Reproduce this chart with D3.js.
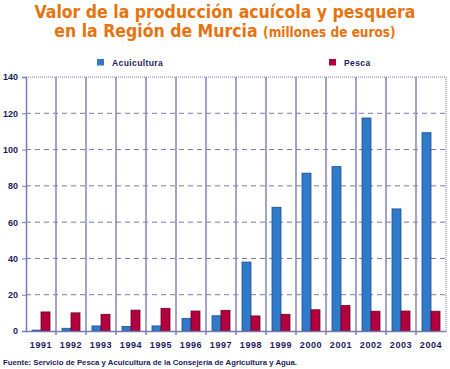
<!DOCTYPE html>
<html>
<head>
<meta charset="utf-8">
<script src="https://d3js.org/d3.v7.min.js"></script>
<style>
  body { margin: 0; background: #fff; }
</style>
</head>
<body>
<div id="chart"></div>
<script>
const years = ["1991","1992","1993","1994","1995","1996","1997","1998","1999","2000","2001","2002","2003","2004"];
const acuicultura = [0.5, 1.5, 2.8, 2.5, 2.8, 7, 8.4, 38, 68.2, 87, 90.6, 117.4, 67.3, 109.3];
const pesca = [10.5, 10, 9.2, 11.5, 12.5, 11, 11.4, 8.3, 9.2, 11.7, 14, 10.9, 11, 10.9];
const yTicks = [0, 20, 40, 60, 80, 100, 120, 140];
const seriesNames = ["Acuicultura", "Pesca"];

const width = 450, height = 369;
const plot = { left: 26, right: 446, top: 77, bottom: 331 };
const navy = "#1c1c5c";
const gridColor = "#7a7ab0";
const colors = { fill: ["#2f7bc9", "#b3003f"], stroke: ["#1f4f90", "#6a0025"] };

const svg = d3.select("#chart").append("svg")
    .attr("width", width)
    .attr("height", height);

// title
const title = svg.append("g")
    .attr("font-family", "'DejaVu Sans Condensed', 'DejaVu Sans'")
    .attr("font-weight", "bold")
    .attr("fill", "#e8730e")
    .attr("text-anchor", "middle");
title.append("text")
    .attr("x", 225).attr("y", 18)
    .attr("font-size", 17.5)
    .text("Valor de la producción acuícola y pesquera");
const t2 = title.append("text")
    .attr("x", 225).attr("y", 37)
    .attr("font-size", 17.5);
t2.append("tspan").text("en la Región de Murcia ");
t2.append("tspan").attr("font-size", 13.5).text("(millones de euros)");

// scales
const x = d3.scaleBand().domain(years).range([plot.left, plot.right]);
const x1 = d3.scaleBand().domain(seriesNames).range([6, 24]);
const y = d3.scaleLinear().domain([0, 140]).range([plot.bottom, plot.top]);

// horizontal dashed gridlines
svg.append("g").selectAll("line")
    .data(yTicks.filter(d => d > 0 && d < 140))
    .join("line")
    .attr("x1", plot.left).attr("x2", plot.right)
    .attr("y1", d => y(d)).attr("y2", d => y(d))
    .attr("stroke", gridColor)
    .attr("stroke-width", 1)
    .attr("stroke-dasharray", "5,4");

// top and right dotted border
svg.append("line")
    .attr("x1", plot.left).attr("x2", plot.right)
    .attr("y1", plot.top).attr("y2", plot.top)
    .attr("stroke", gridColor).attr("stroke-dasharray", "1,1");
svg.append("line")
    .attr("x1", plot.right).attr("x2", plot.right)
    .attr("y1", plot.top).attr("y2", plot.bottom)
    .attr("stroke", gridColor).attr("stroke-dasharray", "1,1");

// vertical solid column lines
svg.append("g").selectAll("line")
    .data(years.slice(1))
    .join("line")
    .attr("x1", d => x(d)).attr("x2", d => x(d))
    .attr("y1", plot.top).attr("y2", plot.bottom + 4)
    .attr("stroke", "#8585b8")
    .attr("stroke-width", 1.5);

// bars
const groups = svg.append("g").selectAll("g")
    .data(years.map((yr, i) => ({ yr, vals: [acuicultura[i], pesca[i]] })))
    .join("g")
    .attr("transform", d => `translate(${x(d.yr)},0)`);
groups.selectAll("rect")
    .data(d => d.vals.map((v, i) => ({ v, i })))
    .join("rect")
    .attr("x", d => x1(seriesNames[d.i]))
    .attr("width", x1.bandwidth())
    .attr("y", d => y(d.v))
    .attr("height", d => y(0) - y(d.v))
    .attr("fill", d => colors.fill[d.i])
    .attr("stroke", d => colors.stroke[d.i])
    .attr("stroke-width", 0.8);

// y axis
const yAxis = svg.append("g")
    .attr("transform", `translate(${plot.left},0)`)
    .call(d3.axisLeft(y).tickValues(yTicks).tickSize(4).tickPadding(4));
yAxis.select(".domain").attr("stroke", gridColor).attr("stroke-width", 1.5);
yAxis.selectAll(".tick line").attr("stroke", gridColor);
yAxis.selectAll(".tick text")
    .attr("font-family", "Liberation Sans, Arial")
    .attr("font-weight", "bold")
    .attr("font-size", 9)
    .attr("fill", navy);

// x axis
const xAxis = svg.append("g")
    .attr("transform", `translate(0,${plot.bottom})`)
    .call(d3.axisBottom(x).tickSize(0).tickPadding(11));
xAxis.select(".domain").attr("stroke", gridColor).attr("stroke-width", 1.5);
xAxis.selectAll(".tick text")
    .attr("font-family", "Liberation Sans, Arial")
    .attr("font-weight", "bold")
    .attr("font-size", 9)
    .attr("letter-spacing", 0.6)
    .attr("fill", navy);

// legend
const legendX = [97, 329];
const legend = svg.append("g").selectAll("g")
    .data(seriesNames)
    .join("g")
    .attr("transform", (d, i) => `translate(${legendX[i]},59)`);
legend.append("rect")
    .attr("width", 7).attr("height", 6.5)
    .attr("fill", (d, i) => colors.fill[i]);
legend.append("text")
    .attr("x", 15).attr("y", 6.5)
    .attr("font-family", "Liberation Sans, Arial")
    .attr("font-weight", "bold")
    .attr("font-size", 8.5)
    .attr("letter-spacing", 0.4)
    .attr("fill", navy)
    .text(d => d);

// source
svg.append("text")
    .attr("x", 3).attr("y", 365)
    .attr("font-family", "Liberation Sans, Arial")
    .attr("font-weight", "bold")
    .attr("font-size", 8)
    .attr("textLength", 294)
    .attr("lengthAdjust", "spacingAndGlyphs")
    .attr("fill", navy)
    .text("Fuente: Servicio de Pesca y Acuicultura de la Consejería de Agricultura y Agua.");
</script>
</body>
</html>
